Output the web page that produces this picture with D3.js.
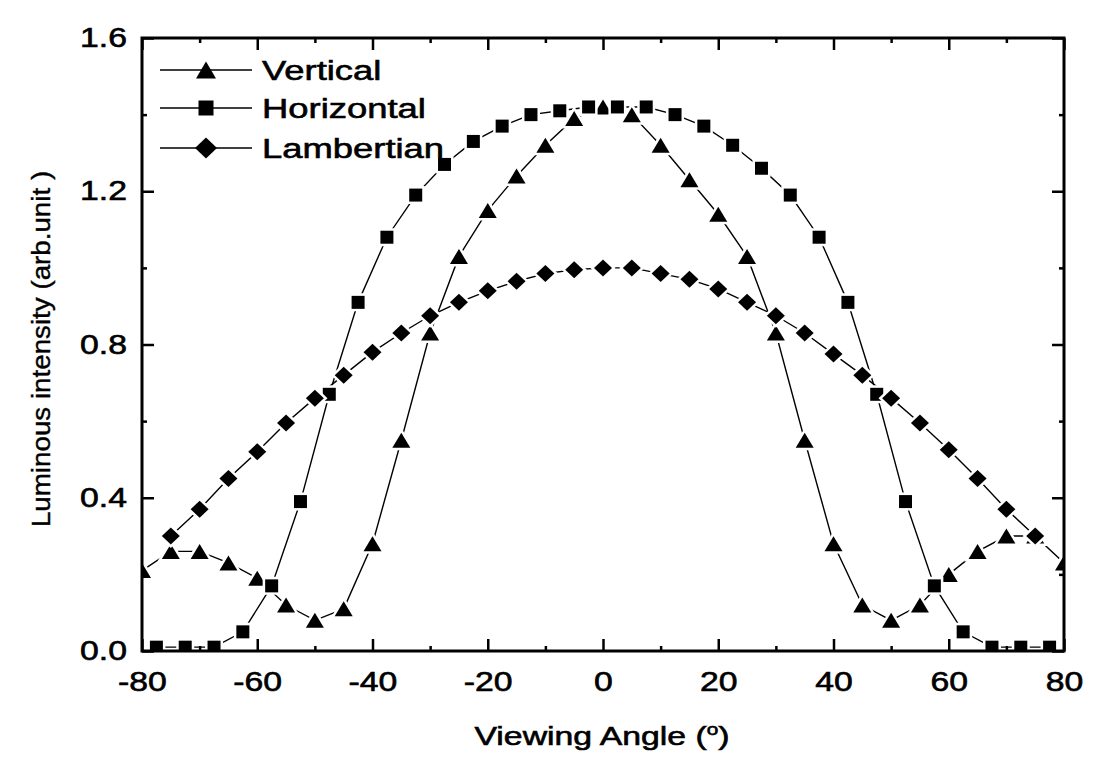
<!DOCTYPE html>
<html>
<head>
<meta charset="utf-8">
<script src="https://cdn.jsdelivr.net/npm/d3@7"></script>
<style>
  body { margin: 0; background: #fff; }
  svg { display: block; }
  text { font-family: "Liberation Sans", Arial, Helvetica, sans-serif; fill: #000; }
  .heavy { stroke: #000; stroke-width: 0.6px; }
</style>
</head>
<body>
<svg id="chart" width="1100" height="758"></svg>
<script>
// Axis ticks
const xTickValues = [-80, -60, -40, -20, 0, 20, 40, 60, 80];
const xMinorTicks = [-70, -50, -30, -10, 10, 30, 50, 70];
const yTickValues = [0.0, 0.4, 0.8, 1.2, 1.6];
const yMinorTicks = [0.2, 0.6, 1.0, 1.4];

// Vertical direction (triangles)
const vertAngles = [-80, -75, -70, -65, -60, -55, -50, -45, -40, -35, -30, -25, -20, -15, -10, -5, 0,
                    5, 10, 15, 20, 25, 30, 35, 40, 45, 50, 55, 60, 65, 70, 75, 80];
const vertValues = [0.21, 0.26, 0.26, 0.23, 0.19, 0.12, 0.08, 0.11, 0.28, 0.55, 0.83, 1.03, 1.15, 1.24, 1.32, 1.39, 1.42,
                    1.40, 1.32, 1.23, 1.14, 1.03, 0.83, 0.55, 0.28, 0.12, 0.08, 0.12, 0.20, 0.26, 0.30, 0.30, 0.23];

// Horizontal direction (squares)
const horzAngles = [-77.5, -72.5, -67.5, -62.5, -57.5, -52.5, -47.5, -42.5, -37.5, -32.5, -27.5, -22.5, -17.5, -12.5, -7.5, -2.5,
                    2.5, 7.5, 12.5, 17.5, 22.5, 27.5, 32.5, 37.5, 42.5, 47.5, 52.5, 57.5, 62.5, 67.5, 72.5, 77.5];
const horzValues = [0.01, 0.01, 0.01, 0.05, 0.17, 0.39, 0.67, 0.91, 1.08, 1.19, 1.27, 1.33, 1.37, 1.40, 1.41, 1.42,
                    1.42, 1.42, 1.40, 1.37, 1.32, 1.26, 1.19, 1.08, 0.91, 0.67, 0.39, 0.17, 0.05, 0.01, 0.01, 0.01];

// Lambertian reference (diamonds)
const lambAngles = [-75, -70, -65, -60, -55, -50, -45, -40, -35, -30, -25, -20, -15, -10, -5, 0,
                    5, 10, 15, 20, 25, 30, 35, 40, 45, 50, 55, 60, 65, 70, 75];
const lambValues = [0.30, 0.37, 0.45, 0.52, 0.595, 0.66, 0.72, 0.78, 0.83, 0.875, 0.91, 0.94, 0.965, 0.985, 0.995, 1.00,
                    1.00, 0.985, 0.97, 0.945, 0.91, 0.875, 0.83, 0.775, 0.72, 0.66, 0.595, 0.525, 0.45, 0.37, 0.30];

const seriesNames = ["Vertical", "Horizontal", "Lambertian"];

const svg = d3.select("#chart");
const plot = { left: 142, right: 1064, top: 38, bottom: 651 };

const x = d3.scaleLinear().domain([-80, 80]).range([plot.left, plot.right]);
const y = d3.scaleLinear().domain([0, 1.6]).range([plot.bottom, plot.top]);

// Marker shapes
function trianglePath(w, h) {
  return `M0,${-h / 2}L${w / 2},${h / 2}L${-w / 2},${h / 2}Z`;
}
function squarePath(s) {
  return `M${-s / 2},${-s / 2}h${s}v${s}h${-s}Z`;
}
function diamondPath(w, h) {
  return `M0,${-h / 2}L${w / 2},0L0,${h / 2}L${-w / 2},0Z`;
}

const series = [
  { name: seriesNames[0], xs: vertAngles, ys: vertValues, shape: trianglePath(18, 15), legendShape: trianglePath(20, 17) },
  { name: seriesNames[1], xs: horzAngles, ys: horzValues, shape: squarePath(13), legendShape: squarePath(15) },
  { name: seriesNames[2], xs: lambAngles, ys: lambValues, shape: diamondPath(18, 17), legendShape: diamondPath(22, 21) }
];

svg.append("defs").append("clipPath").attr("id", "plot-clip")
  .append("rect")
  .attr("x", plot.left).attr("y", plot.top)
  .attr("width", plot.right - plot.left).attr("height", plot.bottom - plot.top);

const dataLayer = svg.append("g").attr("clip-path", "url(#plot-clip)");

const line = d3.line().x(d => x(d[0])).y(d => y(d[1]));

series.forEach(s => {
  const pts = s.xs.map((a, i) => [a, s.ys[i]]);
  dataLayer.append("path")
    .attr("d", line(pts))
    .attr("fill", "none")
    .attr("stroke", "#000")
    .attr("stroke-width", 1.4);
});

series.forEach(s => {
  const pts = s.xs.map((a, i) => [a, s.ys[i]]);
  dataLayer.selectAll(null).data(pts).enter().append("path")
    .attr("d", s.shape)
    .attr("transform", d => `translate(${x(d[0])},${y(d[1])})`)
    .attr("fill", "#000")
    .attr("stroke", "#fff")
    .attr("stroke-width", 5)
    .attr("paint-order", "stroke");
});

// Axes: inward ticks on all four sides
const fmtX = d => String(d);
const fmtY = d3.format(".1f");
const TICK_FONT = 27, TICK_STRETCH = 1.25;

function styleAxis(g) {
  g.select(".domain").remove();
  g.selectAll(".tick line").attr("stroke", "#000").attr("stroke-width", 2.5);
}

const bottomAxis = svg.append("g")
  .attr("transform", `translate(0,${plot.bottom})`)
  .call(d3.axisBottom(x).tickValues(xTickValues).tickSize(-12).tickSizeOuter(0).tickPadding(21).tickFormat(fmtX))
  .call(styleAxis);
bottomAxis.selectAll(".tick text")
  .attr("class", "heavy")
  .attr("font-size", TICK_FONT)
  .attr("font-family", null)
  .attr("transform", `scale(${TICK_STRETCH},1)`);

svg.append("g")
  .attr("transform", `translate(0,${plot.bottom})`)
  .call(d3.axisBottom(x).tickValues(xMinorTicks).tickSize(-5).tickSizeOuter(0).tickFormat(""))
  .call(styleAxis);

svg.append("g")
  .attr("transform", `translate(0,${plot.top})`)
  .call(d3.axisTop(x).tickValues(xTickValues).tickSize(-12).tickSizeOuter(0).tickFormat(""))
  .call(styleAxis);
svg.append("g")
  .attr("transform", `translate(0,${plot.top})`)
  .call(d3.axisTop(x).tickValues(xMinorTicks).tickSize(-5).tickSizeOuter(0).tickFormat(""))
  .call(styleAxis);

const leftAxis = svg.append("g")
  .attr("transform", `translate(${plot.left},0)`)
  .call(d3.axisLeft(y).tickValues(yTickValues).tickSize(-12).tickSizeOuter(0).tickPadding(15).tickFormat(fmtY))
  .call(styleAxis);
leftAxis.selectAll(".tick text")
  .attr("class", "heavy")
  .attr("font-size", TICK_FONT)
  .attr("font-family", null)
  .attr("x", -15 / TICK_STRETCH)
  .attr("transform", `scale(${TICK_STRETCH},1)`);

svg.append("g")
  .attr("transform", `translate(${plot.left},0)`)
  .call(d3.axisLeft(y).tickValues(yMinorTicks).tickSize(-5).tickSizeOuter(0).tickFormat(""))
  .call(styleAxis);

svg.append("g")
  .attr("transform", `translate(${plot.right},0)`)
  .call(d3.axisRight(y).tickValues(yTickValues).tickSize(-12).tickSizeOuter(0).tickFormat(""))
  .call(styleAxis);
svg.append("g")
  .attr("transform", `translate(${plot.right},0)`)
  .call(d3.axisRight(y).tickValues(yMinorTicks).tickSize(-5).tickSizeOuter(0).tickFormat(""))
  .call(styleAxis);

// Frame
svg.append("rect")
  .attr("x", plot.left).attr("y", plot.top)
  .attr("width", plot.right - plot.left).attr("height", plot.bottom - plot.top)
  .attr("fill", "none").attr("stroke", "#000").attr("stroke-width", 3);

// Axis titles
const xTitle = svg.append("text")
  .attr("class", "heavy")
  .attr("transform", `translate(602,745) scale(1.3,1)`)
  .attr("text-anchor", "middle")
  .attr("font-size", 26);
xTitle.append("tspan").text("Viewing Angle (");
xTitle.append("tspan").attr("font-size", 16).attr("dy", -10).text("o");
xTitle.append("tspan").attr("dy", 10).text(")");

svg.append("text")
  .attr("class", "heavy")
  .attr("transform", `translate(50,349) rotate(-90) scale(1.11,1)`)
  .attr("text-anchor", "middle")
  .attr("font-size", 25)
  .style("stroke-width", "0.4px")
  .text("Luminous intensity (arb.unit )");

// Legend
const legendRows = [70, 108, 148];
const legend = svg.append("g");
series.forEach((s, i) => {
  const ly = legendRows[i];
  legend.append("line")
    .attr("x1", 160).attr("x2", 252).attr("y1", ly).attr("y2", ly)
    .attr("stroke", "#000").attr("stroke-width", 1.4);
  legend.append("path")
    .attr("d", s.legendShape)
    .attr("transform", `translate(206,${ly})`)
    .attr("fill", "#000");
  legend.append("text")
    .attr("class", "heavy")
    .attr("transform", `translate(262,${ly + 10}) scale(1.3,1)`)
    .attr("font-size", 28)
    .text(s.name);
});
</script>
</body>
</html>
